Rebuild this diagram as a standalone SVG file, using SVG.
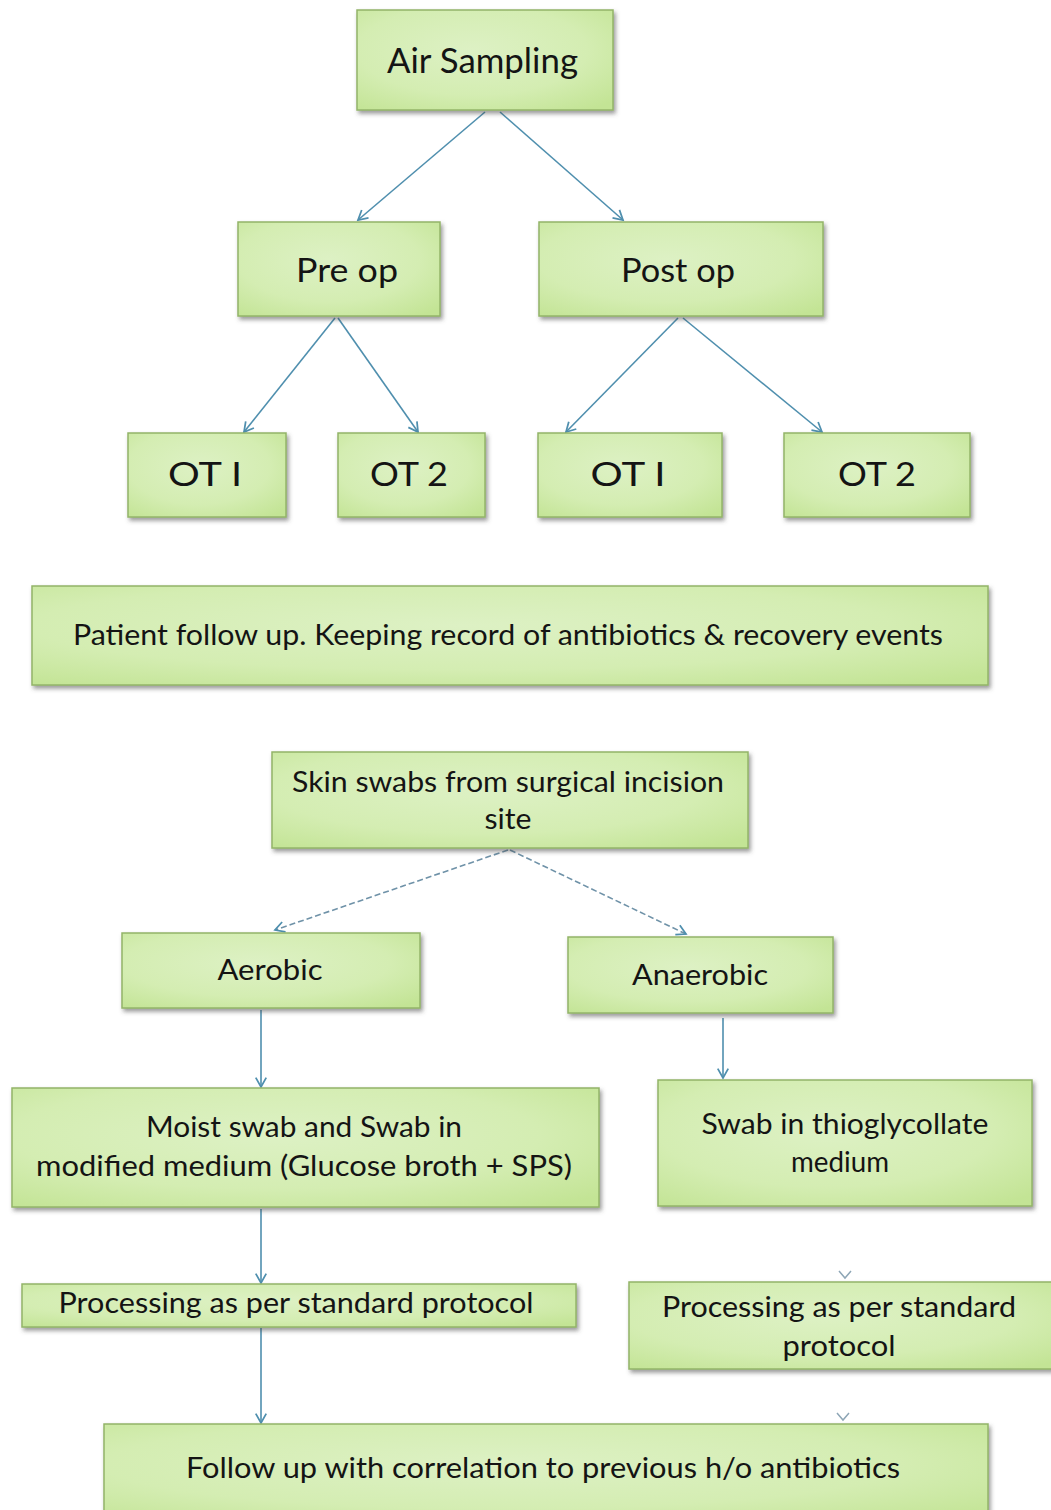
<svg xmlns="http://www.w3.org/2000/svg" width="1051" height="1510" viewBox="0 0 1051 1510">
  <style>
    .box { fill: url(#g); stroke: #93b468; stroke-width: 1.5; filter: url(#sh); }
    .t { font-family: Lato, "Open Sans", sans-serif; fill: #141414; text-anchor: middle; }
    .conn { stroke: #4f8fae; stroke-width: 1.6; fill: none; marker-end: url(#ah); }
    .dash { stroke-dasharray: 6 3; stroke: #6f92a8; }
    .tip { stroke: #8ea6b6; stroke-width: 1.5; fill: none; }
  </style>
  <defs>
    <radialGradient id="g" cx="0.45" cy="0.4" r="0.75">
      <stop offset="0" stop-color="#ddf1c4"/>
      <stop offset="0.6" stop-color="#d4edb2"/>
      <stop offset="1" stop-color="#c3e495"/>
    </radialGradient>
    <filter id="sh" x="-5%" y="-10%" width="112%" height="130%">
      <feDropShadow dx="2" dy="3" stdDeviation="2" flood-color="#4a4a4a" flood-opacity="0.55"/>
    </filter>
    <marker id="ah" markerUnits="userSpaceOnUse" markerWidth="14" markerHeight="14" viewBox="-10 -6 12 12" refX="0" refY="0" orient="auto">
      <path d="M-8,-4.5 L0,0 L-8,4.5" fill="none" stroke="#4f8fae" stroke-width="1.5"/>
    </marker>
  </defs>
  <rect width="1051" height="1510" fill="#ffffff"/>

  <g id="connectors">
    <path class="conn" d="M485,112 L358,220"/>
    <path class="conn" d="M500,112 L623,220"/>
    <path class="conn" d="M335,318 L244,432"/>
    <path class="conn" d="M338,318 L418,432"/>
    <path class="conn" d="M678,318 L566,432"/>
    <path class="conn" d="M683,318 L822,432"/>
    <path class="conn dash" d="M508,850 L275,930"/>
    <path class="conn dash" d="M510,850 L686,934"/>
    <path class="conn" d="M261,1010 L261,1087"/>
    <path class="conn" d="M723,1018 L723,1078"/>
    <path class="conn" d="M261,1209 L261,1283"/>
    <path class="conn" d="M261,1328 L261,1423"/>
    <path class="tip" d="M839,1271 L845,1278 L851,1271"/>
    <path class="tip" d="M837,1413 L843,1420 L849,1413"/>
  </g>

  <g id="air-sampling">
    <rect class="box" x="357" y="10" width="256" height="100"/>
    <text class="t" x="482.5" y="73" font-size="35" textLength="191" lengthAdjust="spacingAndGlyphs">Air Sampling</text>
  </g>
  <g id="pre-op">
    <rect class="box" x="238" y="222" width="202" height="94"/>
    <text class="t" x="347" y="282" font-size="32" textLength="102" lengthAdjust="spacingAndGlyphs">Pre op</text>
  </g>
  <g id="post-op">
    <rect class="box" x="539" y="222" width="284" height="94"/>
    <text class="t" x="678" y="282" font-size="32" textLength="114" lengthAdjust="spacingAndGlyphs">Post op</text>
  </g>
  <g id="pre-ot1">
    <rect class="box" x="128" y="433" width="158" height="84"/>
    <text class="t" x="205" y="486" font-size="32" textLength="74" lengthAdjust="spacingAndGlyphs">OT I</text>
  </g>
  <g id="pre-ot2">
    <rect class="box" x="338" y="433" width="147" height="84"/>
    <text class="t" x="409" y="486" font-size="32" textLength="78" lengthAdjust="spacingAndGlyphs">OT 2</text>
  </g>
  <g id="post-ot1">
    <rect class="box" x="538" y="433" width="184" height="84"/>
    <text class="t" x="628" y="486" font-size="32" textLength="75" lengthAdjust="spacingAndGlyphs">OT I</text>
  </g>
  <g id="post-ot2">
    <rect class="box" x="784" y="433" width="186" height="84"/>
    <text class="t" x="877" y="486" font-size="32" textLength="78" lengthAdjust="spacingAndGlyphs">OT 2</text>
  </g>
  <g id="patient-follow-up">
    <rect class="box" x="32" y="586" width="956" height="99"/>
    <text class="t" x="508" y="645" font-size="28" textLength="870" lengthAdjust="spacingAndGlyphs">Patient follow up. Keeping record of antibiotics &amp; recovery  events</text>
  </g>
  <g id="skin-swabs">
    <rect class="box" x="272" y="752" width="476" height="96"/>
    <text class="t" x="508" y="792" font-size="28" textLength="432" lengthAdjust="spacingAndGlyphs">Skin swabs from surgical incision</text>
    <text class="t" x="508" y="829" font-size="28" textLength="47" lengthAdjust="spacingAndGlyphs">site</text>
  </g>
  <g id="aerobic">
    <rect class="box" x="122" y="933" width="298" height="75"/>
    <text class="t" x="270" y="980" font-size="28" textLength="105" lengthAdjust="spacingAndGlyphs">Aerobic</text>
  </g>
  <g id="anaerobic">
    <rect class="box" x="568" y="937" width="265" height="76"/>
    <text class="t" x="700" y="985" font-size="28" textLength="136" lengthAdjust="spacingAndGlyphs">Anaerobic</text>
  </g>
  <g id="moist-swab">
    <rect class="box" x="12" y="1088" width="587" height="119"/>
    <text class="t" x="304" y="1137" font-size="28" textLength="316" lengthAdjust="spacingAndGlyphs">Moist swab and Swab in</text>
    <text class="t" x="304" y="1176" font-size="28" textLength="536" lengthAdjust="spacingAndGlyphs">modified medium (Glucose broth + SPS)</text>
  </g>
  <g id="thioglycollate">
    <rect class="box" x="658" y="1080" width="374" height="126"/>
    <text class="t" x="845" y="1134" font-size="28" textLength="287" lengthAdjust="spacingAndGlyphs">Swab in thioglycollate</text>
    <text class="t" x="840" y="1172" font-size="28" textLength="98" lengthAdjust="spacingAndGlyphs">medium</text>
  </g>
  <g id="processing-left">
    <rect class="box" x="22" y="1284" width="554" height="43"/>
    <text class="t" x="296" y="1313" font-size="28" textLength="475" lengthAdjust="spacingAndGlyphs">Processing as per standard protocol</text>
  </g>
  <g id="processing-right">
    <rect class="box" x="629" y="1282" width="430" height="87"/>
    <text class="t" x="839" y="1317" font-size="28" textLength="354" lengthAdjust="spacingAndGlyphs">Processing as per standard</text>
    <text class="t" x="839" y="1356" font-size="28" textLength="113" lengthAdjust="spacingAndGlyphs">protocol</text>
  </g>
  <g id="follow-up">
    <rect class="box" x="104" y="1424" width="884" height="100"/>
    <text class="t" x="543" y="1478" font-size="28" textLength="714" lengthAdjust="spacingAndGlyphs">Follow up with correlation to previous h/o antibiotics</text>
  </g>
</svg>
